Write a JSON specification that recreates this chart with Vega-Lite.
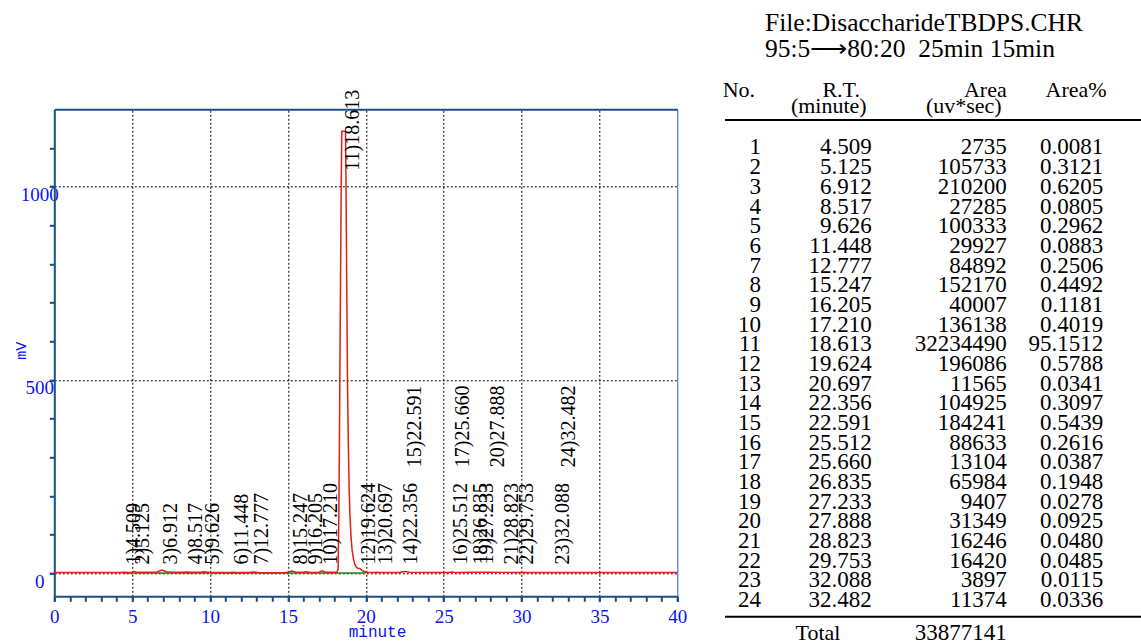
{
  "$schema": "https://vega.github.io/schema/vega-lite/v6.json",
  "width": 623,
  "height": 487,
  "autosize": {"type": "none"},
  "padding": {"left": 54.3, "top": 109.3, "right": 463.7, "bottom": 47.7},
  "background": "white",
  "config": {"view": {"stroke": null}, "text": {"font": "Liberation Serif"}},
  "datasets": {
    "peaks": [
      {"no": 1, "rt": 4.509, "area": 2735, "pct": 0.0081, "tier": "low"},
      {"no": 2, "rt": 5.125, "area": 105733, "pct": 0.3121, "tier": "low"},
      {"no": 3, "rt": 6.912, "area": 210200, "pct": 0.6205, "tier": "low"},
      {"no": 4, "rt": 8.517, "area": 27285, "pct": 0.0805, "tier": "low"},
      {"no": 5, "rt": 9.626, "area": 100333, "pct": 0.2962, "tier": "low"},
      {"no": 6, "rt": 11.448, "area": 29927, "pct": 0.0883, "tier": "low"},
      {"no": 7, "rt": 12.777, "area": 84892, "pct": 0.2506, "tier": "low"},
      {"no": 8, "rt": 15.247, "area": 152170, "pct": 0.4492, "tier": "low"},
      {"no": 9, "rt": 16.205, "area": 40007, "pct": 0.1181, "tier": "low"},
      {"no": 10, "rt": 17.210, "area": 136138, "pct": 0.4019, "tier": "low"},
      {"no": 11, "rt": 18.613, "area": 32234490, "pct": 95.1512, "tier": "top"},
      {"no": 12, "rt": 19.624, "area": 196086, "pct": 0.5788, "tier": "low"},
      {"no": 13, "rt": 20.697, "area": 11565, "pct": 0.0341, "tier": "low"},
      {"no": 14, "rt": 22.356, "area": 104925, "pct": 0.3097, "tier": "low"},
      {"no": 15, "rt": 22.591, "area": 184241, "pct": 0.5439, "tier": "mid"},
      {"no": 16, "rt": 25.512, "area": 88633, "pct": 0.2616, "tier": "low"},
      {"no": 17, "rt": 25.660, "area": 13104, "pct": 0.0387, "tier": "mid"},
      {"no": 18, "rt": 26.835, "area": 65984, "pct": 0.1948, "tier": "low"},
      {"no": 19, "rt": 27.233, "area": 9407, "pct": 0.0278, "tier": "low"},
      {"no": 20, "rt": 27.888, "area": 31349, "pct": 0.0925, "tier": "mid"},
      {"no": 21, "rt": 28.823, "area": 16246, "pct": 0.0480, "tier": "low"},
      {"no": 22, "rt": 29.753, "area": 16420, "pct": 0.0485, "tier": "low"},
      {"no": 23, "rt": 32.088, "area": 3897, "pct": 0.0115, "tier": "low"},
      {"no": 24, "rt": 32.482, "area": 11374, "pct": 0.0336, "tier": "mid"}
    ],
    "trace": [
      {"t": 0, "mv": 1.5}, {"t": 4.3, "mv": 1.5}, {"t": 4.5, "mv": 2.5}, {"t": 4.75, "mv": 1.8},
      {"t": 5.0, "mv": 2.5}, {"t": 5.12, "mv": 4}, {"t": 5.3, "mv": 2.5}, {"t": 6.0, "mv": 2},
      {"t": 6.6, "mv": 3}, {"t": 6.9, "mv": 8}, {"t": 7.2, "mv": 3.5}, {"t": 7.6, "mv": 2},
      {"t": 8.3, "mv": 2}, {"t": 8.5, "mv": 3}, {"t": 8.8, "mv": 2.2}, {"t": 9.4, "mv": 2.2},
      {"t": 9.6, "mv": 3.5}, {"t": 9.9, "mv": 2.2}, {"t": 11.2, "mv": 1.8}, {"t": 11.45, "mv": 2.5},
      {"t": 11.7, "mv": 1.8}, {"t": 12.5, "mv": 1.8}, {"t": 12.78, "mv": 3}, {"t": 13.1, "mv": 1.5},
      {"t": 13.5, "mv": 1.2}, {"t": 14.8, "mv": 1.2}, {"t": 15.05, "mv": 3}, {"t": 15.25, "mv": 5.5},
      {"t": 15.5, "mv": 3}, {"t": 15.8, "mv": 2}, {"t": 16.0, "mv": 2}, {"t": 16.2, "mv": 3.5},
      {"t": 16.45, "mv": 1.8}, {"t": 17.0, "mv": 2.5}, {"t": 17.2, "mv": 6}, {"t": 17.45, "mv": 2},
      {"t": 18.15, "mv": 2}, {"t": 18.22, "mv": 10}, {"t": 18.27, "mv": 150}, {"t": 18.32, "mv": 420},
      {"t": 18.37, "mv": 720}, {"t": 18.42, "mv": 1000}, {"t": 18.46, "mv": 1143}, {"t": 18.70, "mv": 1143},
      {"t": 18.74, "mv": 950}, {"t": 18.78, "mv": 720}, {"t": 18.83, "mv": 480}, {"t": 18.88, "mv": 330},
      {"t": 18.93, "mv": 220}, {"t": 18.98, "mv": 150}, {"t": 19.05, "mv": 95}, {"t": 19.12, "mv": 60},
      {"t": 19.2, "mv": 38}, {"t": 19.3, "mv": 22}, {"t": 19.4, "mv": 15}, {"t": 19.5, "mv": 12},
      {"t": 19.62, "mv": 12}, {"t": 19.75, "mv": 7}, {"t": 19.9, "mv": 4}, {"t": 20.1, "mv": 2.5},
      {"t": 20.5, "mv": 1.8}, {"t": 20.7, "mv": 2.5}, {"t": 20.9, "mv": 1.8}, {"t": 22.2, "mv": 1.8},
      {"t": 22.36, "mv": 3.5}, {"t": 22.59, "mv": 4}, {"t": 22.8, "mv": 2}, {"t": 25.3, "mv": 1.8},
      {"t": 25.5, "mv": 2.8}, {"t": 25.66, "mv": 2.2}, {"t": 25.9, "mv": 1.8}, {"t": 26.8, "mv": 2.5},
      {"t": 27.23, "mv": 2}, {"t": 27.9, "mv": 2.2}, {"t": 28.8, "mv": 1.9}, {"t": 29.75, "mv": 1.9},
      {"t": 30.5, "mv": 1.5}, {"t": 32.1, "mv": 1.6}, {"t": 32.5, "mv": 1.8}, {"t": 33, "mv": 1.5},
      {"t": 40, "mv": 1.5}
    ],
    "baseline": [{"t": 4.4, "mv": 0.3}, {"t": 20.0, "mv": 0.3}]
  },
  "layer": [
    {
      "layer": [
        {
          "data": {"name": "baseline"},
          "mark": {"type": "line", "color": "#1a8c1a", "strokeWidth": 1.5},
          "encoding": {
            "x": {"field": "t", "type": "quantitative", "scale": {"domain": [0, 40], "nice": false, "zero": false},
              "axis": {"orient": "bottom", "values": [0,1,2,3,4,5,6,7,8,9,10,11,12,13,14,15,16,17,18,19,20,21,22,23,24,25,26,27,28,29,30,31,32,33,34,35,36,37,38,39,40], "labels": false, "ticks": true, "tickSize": 5, "tickWidth": 2, "tickColor": "#1b4f82", "domain": false, "grid": false, "title": null}},
            "y": {"field": "mv", "type": "quantitative", "scale": {"domain": [-60, 1200], "nice": false, "zero": false},
              "axis": {"orient": "left", "values": [0,100,200,300,400,500,600,700,800,900,1000,1100], "labels": false, "ticks": true, "tickSize": 5, "tickWidth": 2, "tickColor": "#1b4f82", "domain": false, "grid": false, "title": null}}
          }
        },
        {
          "data": {"name": "trace"},
          "mark": {"type": "line", "color": "#e41e10", "strokeWidth": 1.5},
          "encoding": {
            "x": {"field": "t", "type": "quantitative", "scale": {"domain": [0, 40], "nice": false, "zero": false},
              "axis": {"orient": "bottom", "values": [0,5,10,15,20,25,30,35,40], "format": "d", "labels": true, "labelFlush": false, "labelColor": "#0a14f0", "labelFont": "Liberation Serif", "labelFontSize": 19, "labelPadding": 6, "ticks": true, "tickSize": 5, "tickWidth": 2, "tickColor": "#1b4f82", "domain": true, "domainColor": "#1b4f82", "domainWidth": 2, "grid": false,
                "title": "minute", "titleFont": "Liberation Mono", "titleFontSize": 16, "titleFontWeight": "normal", "titleColor": "#0a14f0", "titleX": 322.7, "titleY": 35, "titleBaseline": "middle", "titleAlign": "center"}},
            "y": {"field": "mv", "type": "quantitative", "scale": {"domain": [-60, 1200], "nice": false, "zero": false},
              "axis": {"orient": "left", "values": [0, 500, 1000], "format": "d", "labels": true, "labelColor": "#0a14f0", "labelFont": "Liberation Serif", "labelFontSize": 19, "labelAlign": "center", "labelBaseline": "alphabetic", "labelOffset": 14, "labelPadding": 10, "ticks": true, "tickSize": 5, "tickWidth": 2, "tickColor": "#1b4f82", "domain": true, "domainColor": "#1b4f82", "domainWidth": 2,
                "grid": true, "gridColor": "black", "gridDash": [2, 2], "gridWidth": 1, "gridOpacity": 1,
                "title": "mV", "titleFont": "Liberation Mono", "titleFontSize": 15, "titleFontWeight": "normal", "titleColor": "#0a14f0", "titleAngle": 270, "titleX": -34, "titleY": 241, "titleBaseline": "middle", "titleAlign": "center"}}
          }
        },
        {
          "data": {"name": "peaks"},
          "transform": [{"filter": "datum.tier === 'low'"}, {"calculate": "datum.no + ')' + format(datum.rt, '.3f')", "as": "label"}],
          "mark": {"type": "text", "angle": 270, "align": "left", "baseline": "middle", "dy": 9, "font": "Liberation Serif", "fontSize": 20, "color": "black"},
          "encoding": {
            "x": {"field": "rt", "type": "quantitative", "scale": {"domain": [0, 40], "nice": false, "zero": false},
              "axis": {"orient": "top", "values": [5,10,15,20,25,30,35], "labels": false, "ticks": false, "domain": true, "domainColor": "#1b4f82", "domainWidth": 2, "grid": true, "gridColor": "black", "gridDash": [2, 2], "gridWidth": 1, "gridOpacity": 1, "title": null}},
            "y": {"datum": 22, "type": "quantitative", "scale": {"domain": [-60, 1200], "nice": false, "zero": false},
              "axis": {"orient": "right", "labels": false, "ticks": false, "grid": false, "domain": true, "domainColor": "#2855d8", "domainWidth": 1, "title": null}},
            "text": {"field": "label"}
          }
        },
        {
          "data": {"name": "peaks"},
          "transform": [{"filter": "datum.tier === 'mid'"}, {"calculate": "datum.no + ')' + format(datum.rt, '.3f')", "as": "label"}],
          "mark": {"type": "text", "angle": 270, "align": "left", "baseline": "middle", "dy": 9, "font": "Liberation Serif", "fontSize": 20, "color": "black"},
          "encoding": {
            "x": {"field": "rt", "type": "quantitative", "scale": {"domain": [0, 40], "nice": false, "zero": false}, "axis": null},
            "y": {"datum": 274, "type": "quantitative", "scale": {"domain": [-60, 1200], "nice": false, "zero": false}, "axis": null},
            "text": {"field": "label"}
          }
        },
        {
          "data": {"name": "peaks"},
          "transform": [{"filter": "datum.tier === 'top'"}, {"calculate": "datum.no + ')' + format(datum.rt, '.3f')", "as": "label"}],
          "mark": {"type": "text", "angle": 270, "align": "left", "baseline": "middle", "dy": 9, "font": "Liberation Serif", "fontSize": 20, "color": "black"},
          "encoding": {
            "x": {"field": "rt", "type": "quantitative", "scale": {"domain": [0, 40], "nice": false, "zero": false}, "axis": null},
            "y": {"datum": 1041, "type": "quantitative", "scale": {"domain": [-60, 1200], "nice": false, "zero": false}, "axis": null},
            "text": {"field": "label"}
          }
        }
      ],
      "resolve": {"axis": {"x": "independent", "y": "independent"}}
    },
    {
      "layer": [
        {
          "data": {"name": "peaks"},
          "mark": {"type": "text", "align": "right", "baseline": "middle", "font": "Liberation Serif", "fontSize": 23, "color": "black"},
          "encoding": {
            "x": {"datum": 58.9, "type": "quantitative", "scale": {"domain": [0, 51.92], "nice": false, "zero": false}, "axis": null},
            "y": {"field": "no", "type": "quantitative", "scale": {"domain": [-0.942, 23.816], "reverse": true, "nice": false, "zero": false}, "axis": null},
            "text": {"field": "no", "type": "quantitative", "format": "d"}
          }
        },
        {
          "data": {"name": "peaks"},
          "mark": {"type": "text", "align": "right", "baseline": "middle", "font": "Liberation Serif", "fontSize": 23, "color": "black"},
          "encoding": {
            "x": {"datum": 68.12, "type": "quantitative", "scale": {"domain": [0, 51.92], "nice": false, "zero": false}, "axis": null},
            "y": {"field": "no", "type": "quantitative", "scale": {"domain": [-0.942, 23.816], "reverse": true, "nice": false, "zero": false}, "axis": null},
            "text": {"field": "rt", "type": "quantitative", "format": ".3f"}
          }
        },
        {
          "data": {"name": "peaks"},
          "mark": {"type": "text", "align": "right", "baseline": "middle", "font": "Liberation Serif", "fontSize": 23, "color": "black"},
          "encoding": {
            "x": {"datum": 79.37, "type": "quantitative", "scale": {"domain": [0, 51.92], "nice": false, "zero": false}, "axis": null},
            "y": {"field": "no", "type": "quantitative", "scale": {"domain": [-0.942, 23.816], "reverse": true, "nice": false, "zero": false}, "axis": null},
            "text": {"field": "area", "type": "quantitative", "format": "d"}
          }
        },
        {
          "data": {"name": "peaks"},
          "mark": {"type": "text", "align": "right", "baseline": "middle", "font": "Liberation Serif", "fontSize": 23, "color": "black"},
          "encoding": {
            "x": {"datum": 87.42, "type": "quantitative", "scale": {"domain": [0, 51.92], "nice": false, "zero": false}, "axis": null},
            "y": {"field": "no", "type": "quantitative", "scale": {"domain": [-0.942, 23.816], "reverse": true, "nice": false, "zero": false}, "axis": null},
            "text": {"field": "pct", "type": "quantitative", "format": ".4f"}
          }
        },
        {
          "data": {"name": "peaks"},
          "mark": {"type": "text", "align": "right", "baseline": "middle", "font": "Liberation Serif", "fontSize": 23, "color": "black"},
          "encoding": {
            "x": {"datum": 79.37, "type": "quantitative", "scale": {"domain": [0, 51.92], "nice": false, "zero": false}, "axis": null},
            "y": {"datum": 25.68, "type": "quantitative", "scale": {"domain": [-0.942, 23.816], "reverse": true, "nice": false, "zero": false}, "axis": null},
            "text": {"aggregate": "sum", "field": "area", "type": "quantitative", "format": "d"}
          }
        },
        {
          "data": {"values": [{}]},
          "mark": {"type": "text", "text": "Total", "align": "center", "baseline": "middle", "font": "Liberation Serif", "fontSize": 22, "color": "black"},
          "encoding": {
            "x": {"datum": 63.64, "type": "quantitative", "scale": {"domain": [0, 51.92], "nice": false, "zero": false}, "axis": null},
            "y": {"datum": 25.68, "type": "quantitative", "scale": {"domain": [-0.942, 23.816], "reverse": true, "nice": false, "zero": false}, "axis": null}
          }
        },
        {
          "data": {"values": [{}]},
          "mark": {"type": "text", "text": "File:DisaccharideTBDPS.CHR", "align": "left", "baseline": "middle", "font": "Liberation Serif", "fontSize": 25.5, "color": "black"},
          "encoding": {
            "x": {"datum": 59.23, "type": "quantitative", "scale": {"domain": [0, 51.92], "nice": false, "zero": false}, "axis": null},
            "y": {"datum": -5.31, "type": "quantitative", "scale": {"domain": [-0.942, 23.816], "reverse": true, "nice": false, "zero": false}, "axis": null}
          }
        },
        {
          "data": {"values": [{}]},
          "mark": {"type": "text", "text": "95:5⟶80:20 \u00a025min 15min", "align": "left", "baseline": "middle", "font": "Liberation Serif", "fontSize": 25.5, "color": "black"},
          "encoding": {
            "x": {"datum": 59.23, "type": "quantitative", "scale": {"domain": [0, 51.92], "nice": false, "zero": false}, "axis": null},
            "y": {"datum": -4.01, "type": "quantitative", "scale": {"domain": [-0.942, 23.816], "reverse": true, "nice": false, "zero": false}, "axis": null}
          }
        },
        {
          "data": {"values": [{}]},
          "mark": {"type": "text", "text": "No.", "align": "left", "baseline": "middle", "font": "Liberation Serif", "fontSize": 22, "color": "black"},
          "encoding": {
            "x": {"datum": 55.7, "type": "quantitative", "scale": {"domain": [0, 51.92], "nice": false, "zero": false}, "axis": null},
            "y": {"datum": -1.92, "type": "quantitative", "scale": {"domain": [-0.942, 23.816], "reverse": true, "nice": false, "zero": false}, "axis": null}
          }
        },
        {
          "data": {"values": [{}]},
          "mark": {"type": "text", "text": "R.T.", "align": "right", "baseline": "middle", "font": "Liberation Serif", "fontSize": 22, "color": "black"},
          "encoding": {
            "x": {"datum": 67.14, "type": "quantitative", "scale": {"domain": [0, 51.92], "nice": false, "zero": false}, "axis": null},
            "y": {"datum": -1.92, "type": "quantitative", "scale": {"domain": [-0.942, 23.816], "reverse": true, "nice": false, "zero": false}, "axis": null}
          }
        },
        {
          "data": {"values": [{}]},
          "mark": {"type": "text", "text": "(minute)", "align": "right", "baseline": "middle", "font": "Liberation Serif", "fontSize": 22, "color": "black"},
          "encoding": {
            "x": {"datum": 67.7, "type": "quantitative", "scale": {"domain": [0, 51.92], "nice": false, "zero": false}, "axis": null},
            "y": {"datum": -1.11, "type": "quantitative", "scale": {"domain": [-0.942, 23.816], "reverse": true, "nice": false, "zero": false}, "axis": null}
          }
        },
        {
          "data": {"values": [{}]},
          "mark": {"type": "text", "text": "Area", "align": "right", "baseline": "middle", "font": "Liberation Serif", "fontSize": 22, "color": "black"},
          "encoding": {
            "x": {"datum": 79.37, "type": "quantitative", "scale": {"domain": [0, 51.92], "nice": false, "zero": false}, "axis": null},
            "y": {"datum": -1.92, "type": "quantitative", "scale": {"domain": [-0.942, 23.816], "reverse": true, "nice": false, "zero": false}, "axis": null}
          }
        },
        {
          "data": {"values": [{}]},
          "mark": {"type": "text", "text": "(uv*sec)", "align": "right", "baseline": "middle", "font": "Liberation Serif", "fontSize": 22, "color": "black"},
          "encoding": {
            "x": {"datum": 78.95, "type": "quantitative", "scale": {"domain": [0, 51.92], "nice": false, "zero": false}, "axis": null},
            "y": {"datum": -1.11, "type": "quantitative", "scale": {"domain": [-0.942, 23.816], "reverse": true, "nice": false, "zero": false}, "axis": null}
          }
        },
        {
          "data": {"values": [{}]},
          "mark": {"type": "text", "text": "Area%", "align": "right", "baseline": "middle", "font": "Liberation Serif", "fontSize": 22, "color": "black"},
          "encoding": {
            "x": {"datum": 87.7, "type": "quantitative", "scale": {"domain": [0, 51.92], "nice": false, "zero": false}, "axis": null},
            "y": {"datum": -1.92, "type": "quantitative", "scale": {"domain": [-0.942, 23.816], "reverse": true, "nice": false, "zero": false}, "axis": null}
          }
        },
        {
          "data": {"values": [{}]},
          "mark": {"type": "rule", "color": "black", "strokeWidth": 2},
          "encoding": {
            "x": {"datum": 55.9, "type": "quantitative", "scale": {"domain": [0, 51.92], "nice": false, "zero": false}, "axis": null},
            "x2": {"datum": 90.6},
            "y": {"datum": -0.4, "type": "quantitative", "scale": {"domain": [-0.942, 23.816], "reverse": true, "nice": false, "zero": false}, "axis": null}
          }
        },
        {
          "data": {"values": [{}]},
          "mark": {"type": "rule", "color": "black", "strokeWidth": 2},
          "encoding": {
            "x": {"datum": 55.9, "type": "quantitative", "scale": {"domain": [0, 51.92], "nice": false, "zero": false}, "axis": null},
            "x2": {"datum": 90.6},
            "y": {"datum": 24.85, "type": "quantitative", "scale": {"domain": [-0.942, 23.816], "reverse": true, "nice": false, "zero": false}, "axis": null}
          }
        }
      ]
    }
  ],
  "resolve": {"scale": {"x": "independent", "y": "independent"}}
}
